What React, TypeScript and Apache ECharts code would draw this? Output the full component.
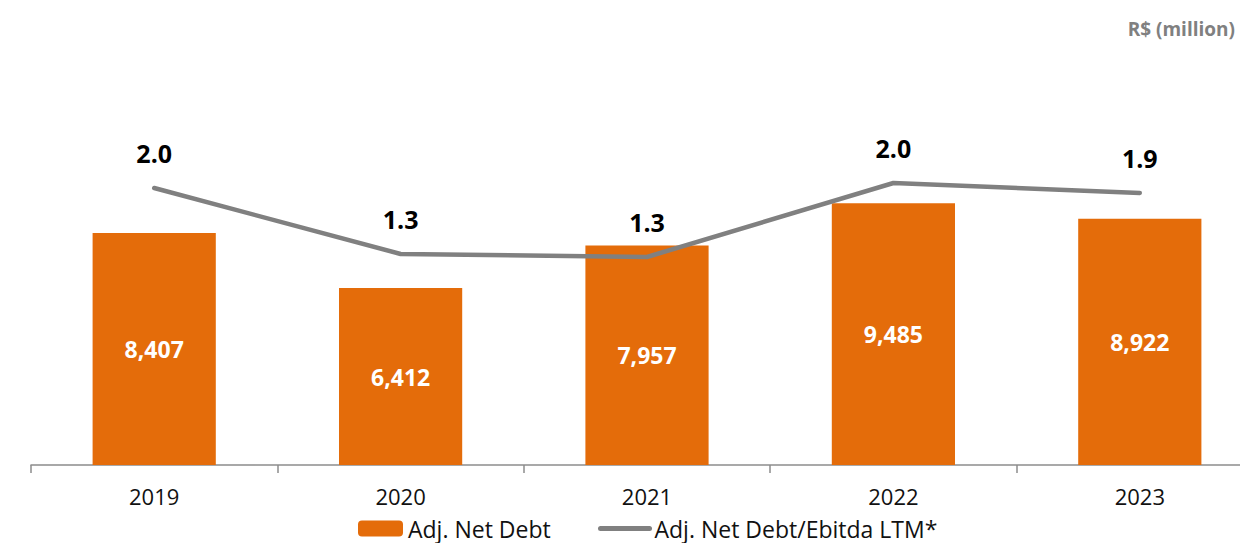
import React, { useEffect, useRef } from "react";
import * as echarts from "echarts";

const years = ["2019", "2020", "2021", "2022", "2023"];
const netDebt = [8407, 6412, 7957, 9485, 8922];
const leverage = [1.97, 1.31, 1.28, 2.02, 1.92];

const FONT = "'Open Sans', 'Noto Sans', sans-serif";

export default function App() {
  const ref = useRef<HTMLDivElement>(null);
  useEffect(() => {
    const chart = echarts.init(ref.current!, null, { renderer: "svg" });
    chart.setOption({
      animation: false,
      textStyle: { fontFamily: FONT },
      graphic: [
        {
          type: "text",
          right: 28,
          top: 19,
          style: {
            text: "R$ (million)",
            fill: "#808080",
            font: `bold 19px ${FONT}`,
          },
        },
      ],
      legend: [
        {
          data: ["Adj. Net Debt"],
          left: 358,
          top: 517,
          itemWidth: 45,
          itemHeight: 16,
          itemGap: 0,
          textStyle: { fontSize: 23, lineHeight: 22, color: "#111", fontFamily: FONT },
          padding: 0,
        },
        {
          data: ["Adj. Net Debt/Ebitda LTM*"],
          left: 598,
          top: 517,
          itemWidth: 49,
          itemHeight: 16,
          itemGap: 0,
          itemStyle: { color: "rgba(0,0,0,0)", borderWidth: 0 },
          lineStyle: { color: "#808080", width: 5, cap: "round" },
          textStyle: { fontSize: 23, lineHeight: 22, color: "#111", fontFamily: FONT },
          padding: 0,
        },
      ],
      grid: { left: 31, right: 0, top: 51, bottom: 78 },
      xAxis: {
        type: "category",
        data: years,
        axisLine: { lineStyle: { color: "#8C8C8C", width: 1.5 } },
        axisTick: { show: true, length: 8, lineStyle: { color: "#8C8C8C", width: 1.5 } },
        axisLabel: { color: "#111", fontSize: 22, margin: 20, fontFamily: FONT },
      },
      yAxis: [
        { type: "value", min: 0, max: 15000, show: false, splitLine: { show: false } },
        { type: "value", min: -0.8, max: 3.34, show: false, splitLine: { show: false } },
      ],
      series: [
        {
          name: "Adj. Net Debt",
          type: "bar",
          data: netDebt,
          barWidth: "50%",
          itemStyle: { color: "#E46C0A" },
          label: {
            show: true,
            position: "inside",
            color: "#fff",
            fontWeight: "bold",
            fontSize: 23,
            fontFamily: FONT,
            formatter: (p: any) => p.value.toLocaleString("en-US"),
          },
        },
        {
          name: "Adj. Net Debt/Ebitda LTM*",
          type: "line",
          yAxisIndex: 1,
          data: leverage,
          symbol: "circle",
          symbolSize: 1,
          itemStyle: { color: "#808080" },
          lineStyle: { color: "#808080", width: 4.5, cap: "round", join: "round" },
          label: {
            show: true,
            position: "top",
            distance: 22,
            color: "#000",
            fontWeight: "bold",
            fontSize: 25,
            fontFamily: FONT,
            formatter: (p: any) => p.value.toFixed(1),
          },
        },
      ],
    });
    return () => chart.dispose();
  }, []);
  return (
    <div style={{ position: "fixed", left: 0, top: 0, width: 1240, height: 543, overflow: "hidden", background: "#fff" }}>
      <div ref={ref} style={{ width: 1263, height: 543 }} />
    </div>
  );
}
